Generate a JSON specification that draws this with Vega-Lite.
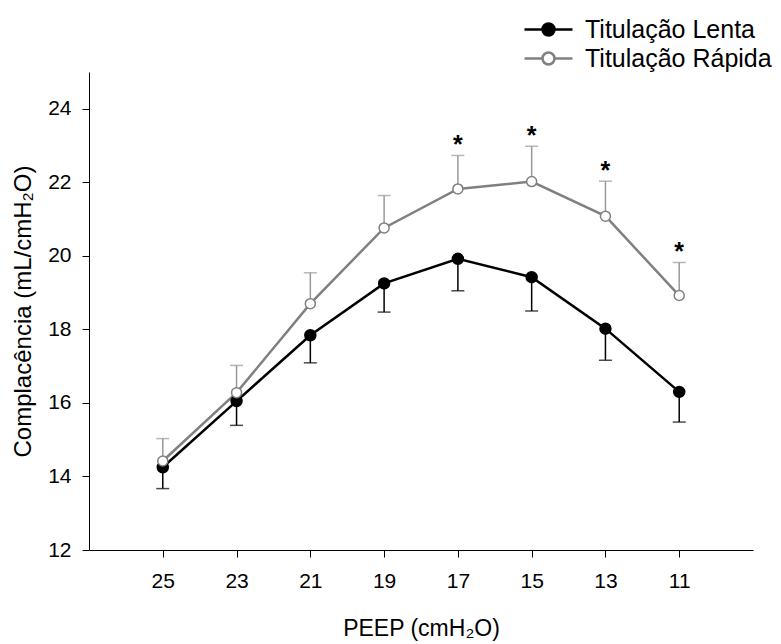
{
  "$schema": "https://vega.github.io/schema/vega-lite/v6.json",
  "width": 664,
  "height": 478,
  "autosize": {"type": "none"},
  "padding": {"left": 89, "top": 72, "right": 28, "bottom": 94},
  "background": "white",
  "config": {
    "view": {"stroke": null},
    "font": "Liberation Sans",
    "axis": {
      "grid": false,
      "domainColor": "#000",
      "domainWidth": 1,
      "tickColor": "#000",
      "tickWidth": 1,
      "tickSize": 7,
      "labelColor": "#000",
      "labelFont": "Liberation Sans",
      "labelFontSize": 21,
      "titleColor": "#000",
      "titleFont": "Liberation Sans",
      "titleFontWeight": "normal"
    },
    "axisX": {"labelPadding": 13, "titlePadding": 26, "titleFontSize": 23},
    "axisY": {"labelPadding": 11, "titlePadding": 12, "titleFontSize": 24}
  },
  "data": {
    "values": [
      {"peep": 25, "serie": "Titulação Lenta", "media": 14.25, "erro": 13.67, "sig": ""},
      {"peep": 23, "serie": "Titulação Lenta", "media": 16.05, "erro": 15.39, "sig": ""},
      {"peep": 21, "serie": "Titulação Lenta", "media": 17.84, "erro": 17.09, "sig": ""},
      {"peep": 19, "serie": "Titulação Lenta", "media": 19.25, "erro": 18.47, "sig": ""},
      {"peep": 17, "serie": "Titulação Lenta", "media": 19.92, "erro": 19.05, "sig": ""},
      {"peep": 15, "serie": "Titulação Lenta", "media": 19.42, "erro": 18.50, "sig": ""},
      {"peep": 13, "serie": "Titulação Lenta", "media": 18.02, "erro": 17.16, "sig": ""},
      {"peep": 11, "serie": "Titulação Lenta", "media": 16.30, "erro": 15.48, "sig": ""},
      {"peep": 25, "serie": "Titulação Rápida", "media": 14.42, "erro": 15.03, "sig": ""},
      {"peep": 23, "serie": "Titulação Rápida", "media": 16.28, "erro": 17.02, "sig": ""},
      {"peep": 21, "serie": "Titulação Rápida", "media": 18.70, "erro": 19.54, "sig": ""},
      {"peep": 19, "serie": "Titulação Rápida", "media": 20.76, "erro": 21.64, "sig": ""},
      {"peep": 17, "serie": "Titulação Rápida", "media": 21.82, "erro": 22.73, "sig": "*"},
      {"peep": 15, "serie": "Titulação Rápida", "media": 22.02, "erro": 22.98, "sig": "*"},
      {"peep": 13, "serie": "Titulação Rápida", "media": 21.08, "erro": 22.03, "sig": "*"},
      {"peep": 11, "serie": "Titulação Rápida", "media": 18.92, "erro": 19.82, "sig": "*"}
    ]
  },
  "encoding": {
    "x": {
      "field": "peep",
      "type": "quantitative",
      "scale": {"domain": [9, 27], "reverse": true, "nice": false, "zero": false},
      "axis": {"title": "PEEP (cmH₂O)", "values": [25, 23, 21, 19, 17, 15, 13, 11]}
    }
  },
  "layer": [
    {
      "mark": {"type": "rule", "strokeWidth": 1.5},
      "encoding": {
        "y": {
          "field": "media",
          "type": "quantitative",
          "scale": {"domain": [12, 25], "nice": false, "zero": false},
          "axis": {"title": "Complacência (mL/cmH₂O)", "values": [12, 14, 16, 18, 20, 22, 24]}
        },
        "y2": {"field": "erro"},
        "color": {"condition": {"test": "datum.serie === 'Titulação Lenta'", "value": "#000"}, "value": "#999"}
      }
    },
    {
      "mark": {"type": "tick", "orient": "horizontal", "size": 13, "thickness": 1.5},
      "encoding": {
        "y": {"field": "erro", "type": "quantitative", "axis": {"title": "Complacência (mL/cmH₂O)", "values": [12, 14, 16, 18, 20, 22, 24]}},
        "color": {"condition": {"test": "datum.serie === 'Titulação Lenta'", "value": "#000"}, "value": "#999"}
      }
    },
    {
      "transform": [{"filter": "datum.serie === 'Titulação Lenta'"}],
      "mark": {"type": "line", "color": "#000", "strokeWidth": 2.5},
      "encoding": {
        "y": {"field": "media", "type": "quantitative", "axis": {"title": "Complacência (mL/cmH₂O)", "values": [12, 14, 16, 18, 20, 22, 24]}}
      }
    },
    {
      "transform": [{"filter": "datum.serie === 'Titulação Rápida'"}],
      "mark": {"type": "line", "color": "#808080", "strokeWidth": 2.5},
      "encoding": {
        "y": {"field": "media", "type": "quantitative", "axis": {"title": "Complacência (mL/cmH₂O)", "values": [12, 14, 16, 18, 20, 22, 24]}}
      }
    },
    {
      "mark": {"type": "point", "shape": "circle", "strokeWidth": 1.5, "opacity": 1, "fillOpacity": 1},
      "encoding": {
        "y": {"field": "media", "type": "quantitative", "axis": {"title": "Complacência (mL/cmH₂O)", "values": [12, 14, 16, 18, 20, 22, 24]}},
        "size": {"condition": {"test": "datum.serie === 'Titulação Lenta'", "value": 120}, "value": 100},
        "fill": {
          "field": "serie",
          "type": "nominal",
          "scale": {"domain": ["Titulação Lenta", "Titulação Rápida"], "range": ["#000", "#fff"]},
          "legend": {
            "title": null,
            "orient": "none",
            "legendX": 446,
            "legendY": -56,
            "padding": 0,
            "rowPadding": 2,
            "symbolType": "M-2,0L-0.5,0M0.5,0A0.5,0.5,0,1,1,-0.5,0A0.5,0.5,0,1,1,0.5,0M0.5,0L2,0",
            "symbolSize": 576,
            "symbolStrokeWidth": 2.5,
            "labelFont": "Liberation Sans",
            "labelFontSize": 25,
            "labelColor": "#000",
            "labelOffset": 23,
            "labelLimit": 400
          }
        },
        "stroke": {
          "field": "serie",
          "type": "nominal",
          "scale": {"domain": ["Titulação Lenta", "Titulação Rápida"], "range": ["#000", "#808080"]},
          "legend": {
            "title": null,
            "orient": "none",
            "legendX": 446,
            "legendY": -56,
            "padding": 0,
            "rowPadding": 2,
            "symbolType": "M-2,0L-0.5,0M0.5,0A0.5,0.5,0,1,1,-0.5,0A0.5,0.5,0,1,1,0.5,0M0.5,0L2,0",
            "symbolSize": 576,
            "symbolStrokeWidth": 2.5,
            "labelFont": "Liberation Sans",
            "labelFontSize": 25,
            "labelColor": "#000",
            "labelOffset": 23,
            "labelLimit": 400
          }
        }
      }
    },
    {
      "transform": [{"filter": "datum.sig === '*'"}],
      "mark": {"type": "text", "fontSize": 25, "fontWeight": "bold", "baseline": "alphabetic", "dy": -2, "color": "#000", "font": "Liberation Sans"},
      "encoding": {
        "y": {"field": "erro", "type": "quantitative", "axis": {"title": "Complacência (mL/cmH₂O)", "values": [12, 14, 16, 18, 20, 22, 24]}},
        "text": {"field": "sig"}
      }
    }
  ]
}
